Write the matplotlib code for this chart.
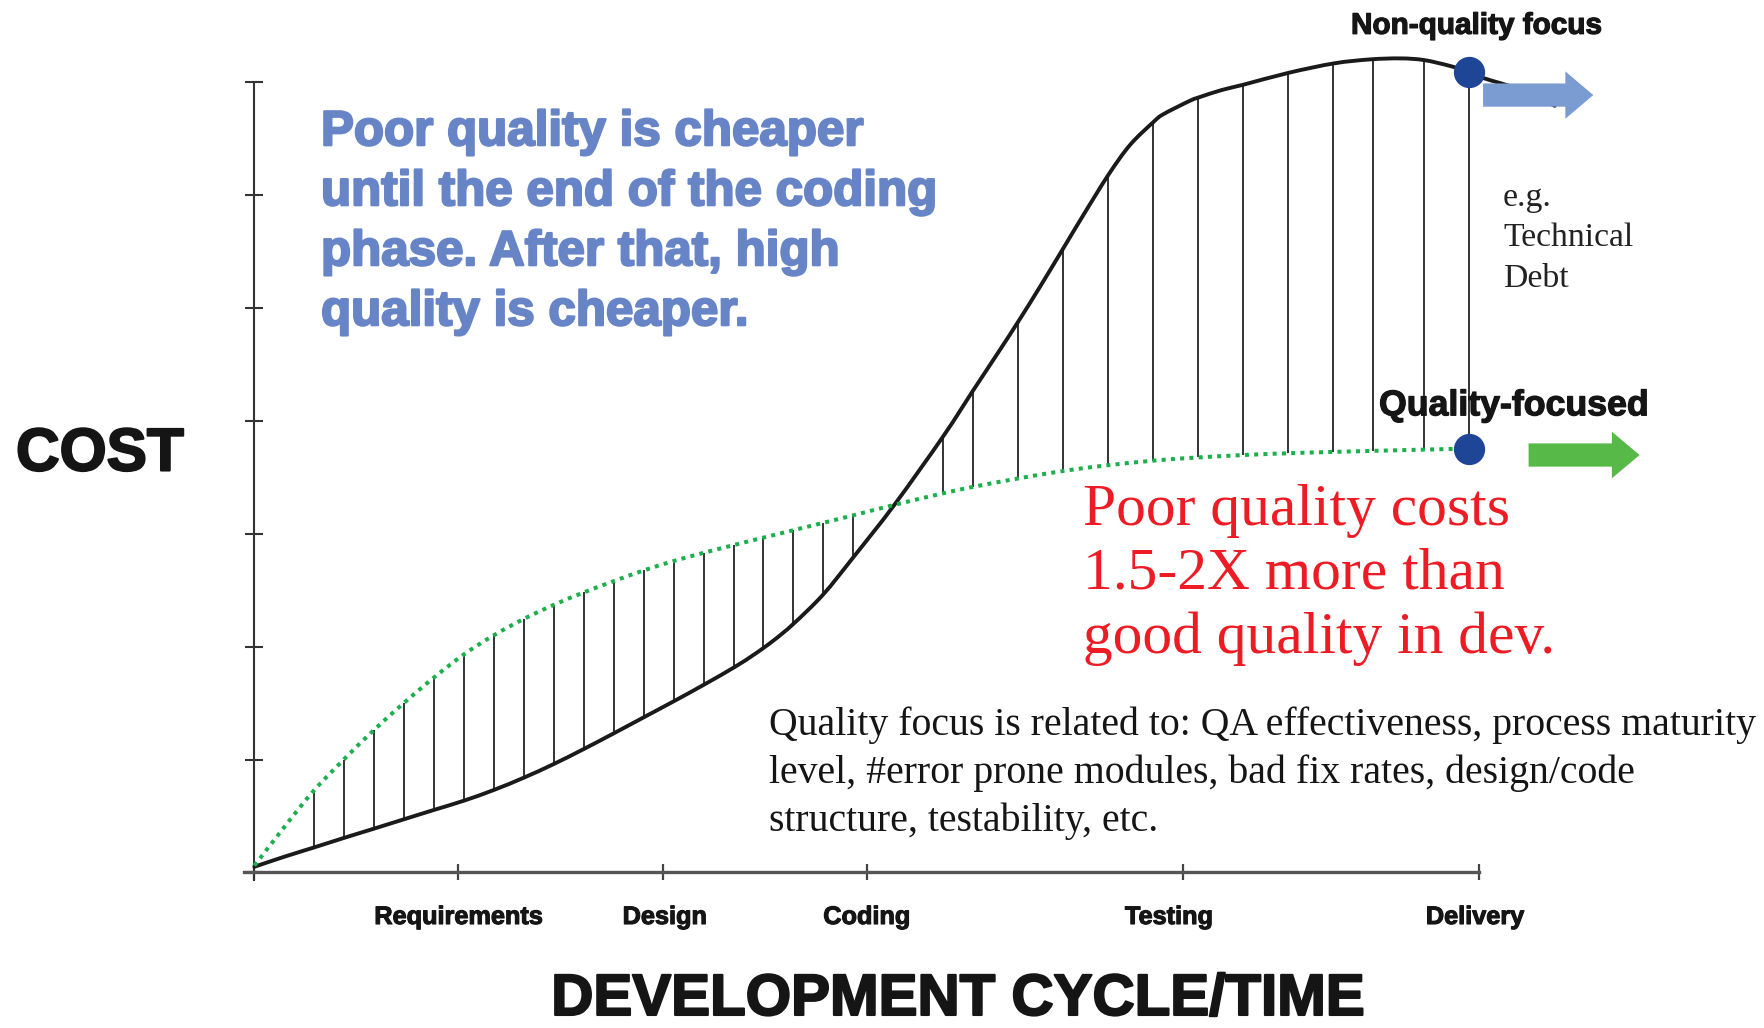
import numpy as np
import matplotlib
matplotlib.use("Agg")
import matplotlib.pyplot as plt
import matplotlib.patheffects as pe
from matplotlib.patches import FancyArrow, PathPatch
from matplotlib.path import Path

# Cost curves over the development cycle (x = time, y = cost units)
nonquality_x = [0.000, 0.147, 0.294, 0.438, 0.585, 0.732, 0.879, 1.026, 1.173, 1.320,
                1.467, 1.614, 1.761, 1.908, 2.058, 2.205, 2.352, 2.450, 2.542, 2.640,
                2.787, 2.934, 3.134, 3.375, 3.522, 3.637, 3.743, 3.849, 3.963, 4.061,
                4.184, 4.290, 4.404, 4.453, 4.584, 4.633, 4.740, 4.848, 5.069, 5.290,
                5.466, 5.615, 5.731, 5.858, 5.952, 6.023, 6.106, 6.200, 6.282, 6.371]
nonquality_y = [0.050, 0.139, 0.222, 0.305, 0.387, 0.470, 0.553, 0.635, 0.730, 0.839,
                0.960, 1.093, 1.232, 1.374, 1.519, 1.665, 1.818, 1.932, 2.052, 2.200,
                2.462, 2.790, 3.252, 3.863, 4.270, 4.585, 4.880, 5.187, 5.527, 5.821,
                6.178, 6.443, 6.645, 6.715, 6.835, 6.868, 6.930, 6.978, 7.083, 7.166,
                7.201, 7.210, 7.195, 7.143, 7.090, 7.035, 6.990, 6.935, 6.870, 6.790]

quality_x = [0.000, 0.163, 0.294, 0.438, 0.585, 0.732, 0.879, 1.026, 1.173, 1.320,
             1.467, 1.614, 1.761, 1.908, 2.058, 2.200, 2.350, 2.500, 2.650, 2.800,
             2.950, 3.134, 3.375, 3.522, 3.744, 3.964, 4.184, 4.405, 4.584, 4.848,
             5.124, 5.532, 5.952]
quality_y = [0.060, 0.440, 0.730, 1.000, 1.260, 1.500, 1.725, 1.930, 2.100, 2.245,
             2.370, 2.480, 2.580, 2.675, 2.760, 2.830, 2.900, 2.968, 3.035, 3.102,
             3.170, 3.255, 3.358, 3.415, 3.490, 3.556, 3.607, 3.647, 3.671, 3.697,
             3.716, 3.736, 3.754]

# vertical hatch lines between the two curves
hatch_x = [0.294, 0.438, 0.585, 0.732, 0.879, 1.026, 1.173, 1.320, 1.467, 1.614,
           1.761, 1.908, 2.058, 2.205, 2.352, 2.494, 2.640, 2.787, 2.934, 3.375,
           3.522, 3.743, 3.962, 4.184, 4.404, 4.625, 4.845, 5.066, 5.286, 5.480,
           5.730, 5.952]

phase_ticks = [0, 1, 2, 3, 4.55, 6]
phase_labels = ["Requirements", "Design", "Coding", "Testing", "Delivery"]
phase_label_x = [1.0, 2.01, 3.0, 4.48, 5.98]
cost_ticks = list(range(8))
delivery_x = 5.952

# layout (pixels of the 1765x1028 output)
W, H = 1765, 1028
X0_PX, Y0_PX = 254.4, 872.4      # where (0, 0) sits
XU, YU = 204.1, 112.9            # pixels per data unit
XLIM, YLIM = (-0.3, 7.3), (-0.4, 7.7)

SANS = "Liberation Sans"
SERIF = "Liberation Serif"
BLUE_TXT = "#6784C6"
RED_TXT = "#ED1C24"
DOT = "#1F4597"
GREEN = "#1DAF4C"
INK = "#151515"


def fx(px):
    return px / W


def fy(py):
    return 1 - py / H


def heavy(color, w=1.2):
    return [pe.withStroke(linewidth=w, foreground=color)]


def smooth_path(xs, ys):
    # Catmull-Rom through the read points, drawn as cubic Beziers
    p = np.column_stack([xs, ys])
    n = len(p)
    verts, codes = [p[0]], [Path.MOVETO]
    for i in range(n - 1):
        p0, p1, p2, p3 = p[max(i - 1, 0)], p[i], p[i + 1], p[min(i + 2, n - 1)]
        verts += [p1 + (p2 - p0) / 6, p2 - (p3 - p1) / 6, p2]
        codes += [Path.CURVE4] * 3
    return Path(verts, codes)


fig = plt.figure(figsize=(W / 100, H / 100), dpi=100)
ax = fig.add_axes([(X0_PX + XLIM[0] * XU) / W,
                   (H - Y0_PX + YLIM[0] * YU) / H,
                   (XLIM[1] - XLIM[0]) * XU / W,
                   (YLIM[1] - YLIM[0]) * YU / H])
ax.set_xlim(*XLIM)
ax.set_ylim(*YLIM)
ax.patch.set_visible(False)

for s in ["top", "right"]:
    ax.spines[s].set_visible(False)
ax.spines["left"].set_position(("data", 0))
ax.spines["bottom"].set_position(("data", 0))
ax.spines["left"].set_bounds(-0.07, 7)
ax.spines["bottom"].set_bounds(-0.05, 6)
ax.spines["left"].set_color("#333333")
ax.spines["left"].set_linewidth(1.5)
ax.spines["bottom"].set_color("#555555")
ax.spines["bottom"].set_linewidth(2.4)

ax.set_xticks(phase_ticks)
ax.set_yticks(cost_ticks)
ax.set_xticklabels([])
ax.set_yticklabels([])
ax.tick_params(axis="y", direction="inout", length=13, width=1.5, color="#333333")
ax.tick_params(axis="x", direction="inout", length=12, width=1.6, color="#444444")

# hatch between curves
g_at = np.interp(hatch_x, quality_x, quality_y)
b_at = np.interp(hatch_x, nonquality_x, nonquality_y)
ax.vlines(hatch_x, np.minimum(g_at, b_at), np.maximum(g_at, b_at),
          colors="#1a1a1a", linewidth=1.25, zorder=2)

ax.add_patch(PathPatch(smooth_path(nonquality_x, nonquality_y), fill=False,
                       edgecolor="#1a1a1a", linewidth=2.8, capstyle="round",
                       zorder=3))
ax.add_patch(PathPatch(smooth_path(quality_x, quality_y), fill=False,
                       edgecolor=GREEN, linewidth=2.9, linestyle=(0, (1, 1.3)),
                       zorder=4))

# end points at delivery
dot_y = [np.interp(delivery_x, nonquality_x, nonquality_y),
         np.interp(delivery_x, quality_x, quality_y)]
ax.plot([delivery_x, delivery_x], dot_y, linestyle="none", marker="o",
        markersize=21.5, color=DOT, zorder=5)

# arrows
ax.add_patch(FancyArrow(6.02, 6.885, 0.54, 0, width=0.206, head_width=0.42,
                        head_length=0.137, length_includes_head=True,
                        color="#7B9CD3", linewidth=0, zorder=6))
ax.add_patch(FancyArrow(6.243, 3.697, 0.544, 0, width=0.206, head_width=0.413,
                        head_length=0.136, length_includes_head=True,
                        color="#57B947", linewidth=0, zorder=6))

# phase labels under the axis
for x, lab in zip(phase_label_x, phase_labels):
    fig.text(fx(X0_PX + x * XU), fy(924), lab, ha="center", va="baseline",
             fontsize=18.2, fontweight="bold", family=SANS, color=INK,
             path_effects=heavy(INK, 0.8))

fig.text(fx(16), fy(470.5), "COST", ha="left", va="baseline",
         fontsize=43.5, fontweight="bold", family=SANS, color=INK,
         path_effects=heavy(INK, 1.5))
fig.text(fx(958), fy(1015), "DEVELOPMENT CYCLE/TIME", ha="center", va="baseline",
         fontsize=42, fontweight="bold", family=SANS, color=INK,
         path_effects=heavy(INK, 1.5))

blue_lines = ["Poor quality is cheaper", "until the end of the coding",
              "phase. After that, high", "quality is cheaper."]
for i, line in enumerate(blue_lines):
    fig.text(fx(321), fy(145.2 + i * 60), line, ha="left", va="baseline",
             fontsize=35.5, fontweight="bold", family=SANS, color=BLUE_TXT,
             path_effects=heavy(BLUE_TXT, 1.6))

red_lines = ["Poor quality costs", "1.5-2X more than", "good quality in dev."]
for i, line in enumerate(red_lines):
    fig.text(fx(1083), fy(524.5 + i * 64.2), line, ha="left", va="baseline",
             fontsize=42.8, family=SERIF, color=RED_TXT)

note_lines = ["Quality focus is related to: QA effectiveness, process maturity",
              "level, #error prone modules, bad fix rates, design/code",
              "structure, testability, etc."]
for i, line in enumerate(note_lines):
    fig.text(fx(769), fy(735 + i * 48), line, ha="left", va="baseline",
             fontsize=28.6, family=SERIF, color=INK)

debt_lines = ["e.g.", "Technical", "Debt"]
for i, line in enumerate(debt_lines):
    fig.text(fx(1503), fy(206 + i * 40.5), line, ha="left", va="baseline",
             fontsize=24.3, family=SERIF, color="#222222")

fig.text(fx(1351), fy(33.8), "Non-quality focus", ha="left", va="baseline",
         fontsize=21.4, fontweight="bold", family=SANS, color=INK,
         path_effects=heavy(INK, 0.9))
fig.text(fx(1379), fy(415.3), "Quality-focused", ha="left", va="baseline",
         fontsize=25.7, fontweight="bold", family=SANS, color=INK, zorder=7,
         path_effects=heavy(INK, 0.9))

fig.savefig("out.png", dpi=100)
